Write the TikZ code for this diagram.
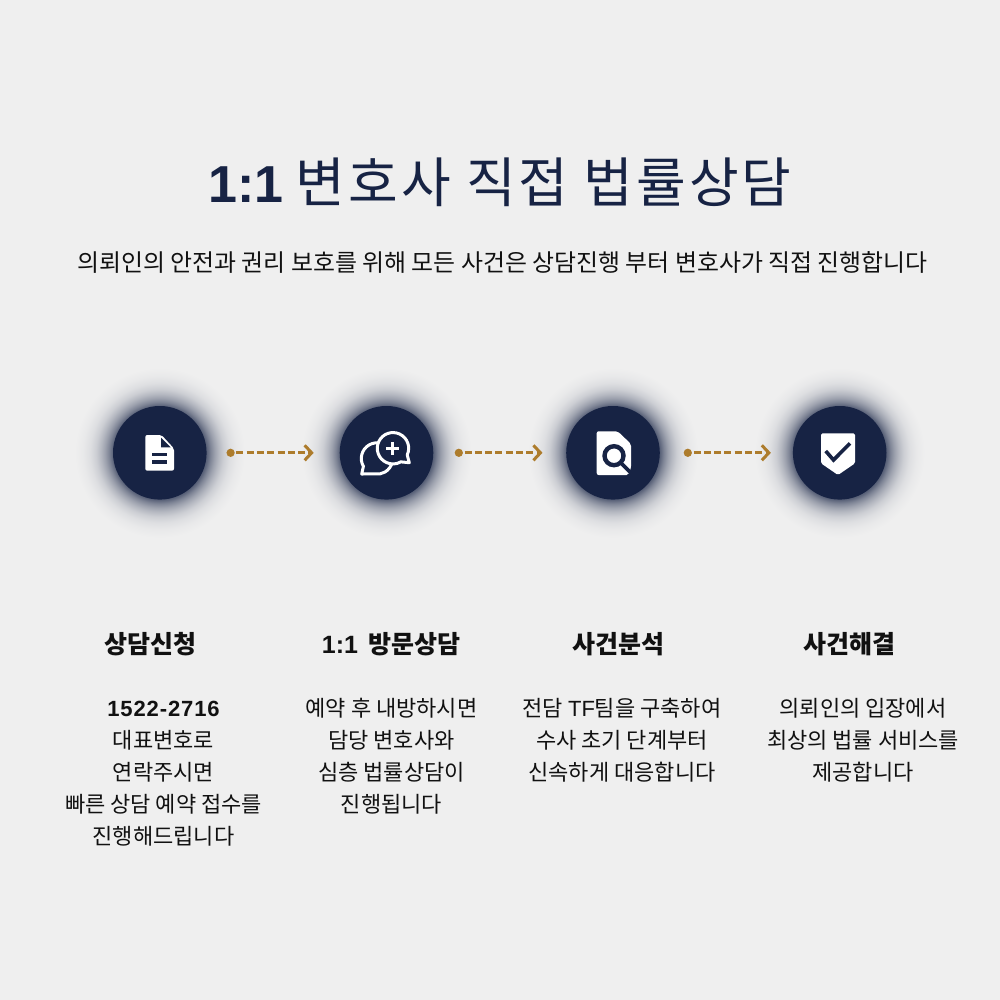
\documentclass[tikz,border=0pt]{standalone}
\usepackage{fontspec}
\setmainfont{Noto Sans CJK KR}
\newfontfamily\titlefont[LetterSpace=5.7]{Noto Sans CJK KR}
\newfontfamily\latinfont{Liberation Sans}
\newfontfamily\digitfont[LetterSpace=4]{Liberation Sans}
\usetikzlibrary{arrows.meta}
\definecolor{navy}{HTML}{172344}
\definecolor{paper}{HTML}{EFEFEF}
\definecolor{gold}{HTML}{AD7C2C}
\definecolor{ink}{HTML}{111111}
\pgfdeclareradialshading{haloshade}{\pgfpoint{0bp}{0bp}}{%
  color(0bp)=(navy);
  color(13.76bp)=(navy!70!paper);
  color(14.94bp)=(navy!52!paper);
  color(16.12bp)=(navy!38!paper);
  color(17.3bp)=(navy!27!paper);
  color(18.76bp)=(navy!16!paper);
  color(20.53bp)=(navy!8!paper);
  color(22.6bp)=(navy!3!paper);
  color(25bp)=(paper);
  color(50bp)=(paper)}
\tikzset{
  halo/.style={circle,inner sep=0,outer sep=0,minimum size=170pt,shading=haloshade},
  stepnode/.style={circle,inner sep=0,outer sep=0,minimum size=93.6pt,fill=navy},
  flow/.style={draw=gold,line width=3.2pt,dash pattern=on 7pt off 3.3pt,dash phase=7pt,
    {Circle[length=8pt,width=8pt,fill=gold]}-{Straight Barb[length=7pt,width=15pt,line width=3pt]}},
  heading/.style={font=\fontsize{25}{30}\selectfont\bfseries,text=ink},
  body/.style={font=\fontsize{22}{32}\selectfont,text=ink,align=center},
  cut/.style={draw=navy,line width=3.6pt},
  outline/.style={draw=white,line width=3pt,fill=navy,line join=round}
}
\begin{document}
\begin{tikzpicture}[x=1pt,y=-1pt]
  \useasboundingbox (0,0) rectangle (1000,1000);
  \fill[paper] (0,0) rectangle (1000,1000);
  % title
  \node[text=navy,font=\fontsize{54}{60}\selectfont] at (500,182) (title) {{\fontsize{52}{60}\selectfont\latinfont\bfseries 1:1} {\titlefont 변호사 직접 법률상담}};
  \node[text=ink,font=\fontsize{23.9}{28}\selectfont] at (502.5,262.5) (subtitle) {의뢰인의 안전과 권리 보호를 위해 모든 사건은 상담진행 부터 변호사가 직접 진행합니다};
  % steps
  \node[halo] at (159.8,452.8) {};
  \node[halo] at (386.5,452.8) {};
  \node[halo] at (613,452.8) {};
  \node[halo] at (839.7,452.8) {};
  \node[stepnode] at (159.8,452.8) (apply) {};
  \node[stepnode] at (386.5,452.8) (visit) {};
  \node[stepnode] at (613,452.8) (analyse) {};
  \node[stepnode] at (839.7,452.8) (resolve) {};
  \path[] (apply) edge[flow,shorten <=20pt,shorten >=26pt] (visit);
  \path[] (visit) edge[flow,shorten <=21.5pt,shorten >=23.7pt] (analyse);
  \path[] (analyse) edge[flow,shorten <=24pt,shorten >=22pt] (resolve);
  % document icon
  \fill[white,rounded corners=2pt] (145.3,435) -- (161.5,435) -- (174,448.5) -- (174,470.7) -- (145.3,470.7) -- cycle;
  \fill[navy] (161,437.7) -- (161,447.3) -- (170.7,447.3) -- cycle;
  \fill[navy] (152,452.7) rectangle (167.3,456);
  \fill[navy] (152,460) rectangle (167.3,463.7);
  % speech bubble icon
  \draw[outline] (361.7,474) -- (363.4,466.35) arc[start angle=150,end angle=460,radius=15.7] -- cycle;
  \draw[outline] (409.3,462.7) -- (407.2,454.9) arc[start angle=25,end angle=-300,radius=15.7] -- cycle;
  \draw[white,line width=3.2pt] (386.2,448.3) -- (399.2,448.3) (392.7,441.8) -- (392.7,454.8);
  % file search icon
  \fill[white,rounded corners=2pt] (596.7,431.3) -- (617.7,431.3) -- (631,444) -- (631,468) -- (628.5,475) -- (596.7,475) -- cycle;
  \draw[cut,line width=4.4pt] (614,455.7) circle[radius=9.5];
  \draw[cut,line width=3.6pt] (621,463) -- (632,474);
  % shield icon
  \fill[white,rounded corners=1.5pt] (821,433.3) -- (855,433.3) -- (855,463.3) -- (838,475) -- (821,463.3) -- cycle;
  \draw[cut] (825.7,451) -- (833.5,460) -- (850,443.3);
  % captions
  \node[heading] at (150,644) (t1) {상담신청};
  \node[heading] at (391,644) (t2) {{\latinfont 1:1}\, 방문상담};
  \node[heading] at (618,644) (t3) {사건분석};
  \node[heading] at (849,644) (t4) {사건해결};
  \node[body,anchor=north] at (163.5,695) (b1) {\phantom{대}{\digitfont\bfseries 1522-2716}\phantom{대}\\대표변호로\\연락주시면\\빠른 상담 예약 접수를\\진행해드립니다};
  \node[body,anchor=north] at (391.5,695) (b2) {예약 후 내방하시면\\담당 변호사와\\심층 법률상담이\\진행됩니다};
  \node[body,anchor=north] at (622,695) (b3) {전담 {\latinfont TF}팀을 구축하여\\수사 초기 단계부터\\신속하게 대응합니다};
  \node[body,anchor=north] at (863,695) (b4) {의뢰인의 입장에서\\최상의 법률 서비스를\\제공합니다};
\end{tikzpicture}
\end{document}
